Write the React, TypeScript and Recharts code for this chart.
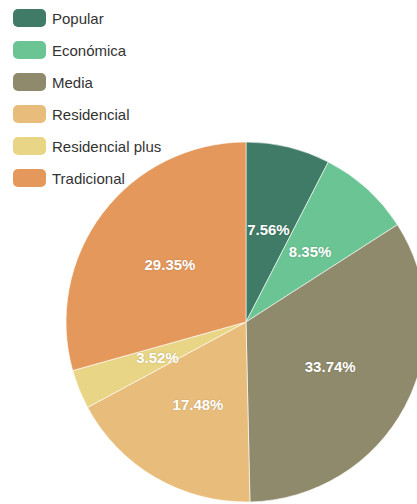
import { PieChart, Pie, Cell } from 'recharts';

const SEGMENTS = ["Popular", "Económica", "Media", "Residencial", "Residencial plus", "Tradicional"];
const SHARES = [7.56, 8.35, 33.74, 17.48, 3.52, 29.35];
const COLORS = ["#3f7b66", "#6bc493", "#8e8a6b", "#e8bd7c", "#e8d686", "#e4985b"];

const data = SEGMENTS.map((name, i) => ({ name, value: SHARES[i], color: COLORS[i] }));

const RADIAN = Math.PI / 180;

const renderLabel = (props: any) => {
    const { cx, cy, midAngle, outerRadius, value } = props;
    const r = outerRadius * 0.53;
    const x = cx + r * Math.cos(-midAngle * RADIAN);
    const y = cy + r * Math.sin(-midAngle * RADIAN);
    return (
        <text
            x={x}
            y={y}
            fill="#ffffff"
            textAnchor="middle"
            dominantBaseline="central"
            fontSize={15}
            fontWeight="bold"
            fontFamily="'Liberation Sans', Arial, sans-serif"
            style={{ textShadow: "0 0 2px rgba(0,0,0,0.2)" }}
        >
            {`${value.toFixed(2)}%`}
        </text>
    );
};

export default function App() {
    return (
        <div style={{ position: "absolute", top: 0, left: 0, width: 417, height: 504, overflow: "hidden", background: "#fff" }}>
            {/* Legend */}
            <div style={{ position: "absolute", top: 2, left: 13, fontFamily: "'Liberation Sans', Arial, sans-serif" }}>
                {data.map((d) => (
                    <div key={d.name} style={{ display: "flex", alignItems: "center", height: 32 }}>
                        <div style={{ width: 33, height: 18, borderRadius: 5, backgroundColor: d.color }} />
                        <span style={{ marginLeft: 6, fontSize: 15, color: "#333" }}>{d.name}</span>
                    </div>
                ))}
            </div>
            <div style={{ position: "absolute", top: 0, left: 0 }}>
                <PieChart width={417} height={504} margin={{ top: 0, right: 0, bottom: 0, left: 0 }}>
                    <Pie
                        data={data}
                        dataKey="value"
                        nameKey="name"
                        cx={246}
                        cy={322}
                        outerRadius={180}
                        startAngle={90}
                        endAngle={-270}
                        stroke="#ffffff"
                        strokeWidth={0.6}
                        labelLine={false}
                        label={renderLabel}
                        isAnimationActive={false}
                    >
                        {data.map((entry, index) => (
                            <Cell key={`cell-${index}`} fill={entry.color} />
                        ))}
                    </Pie>
                </PieChart>
            </div>
        </div>
    );
}
